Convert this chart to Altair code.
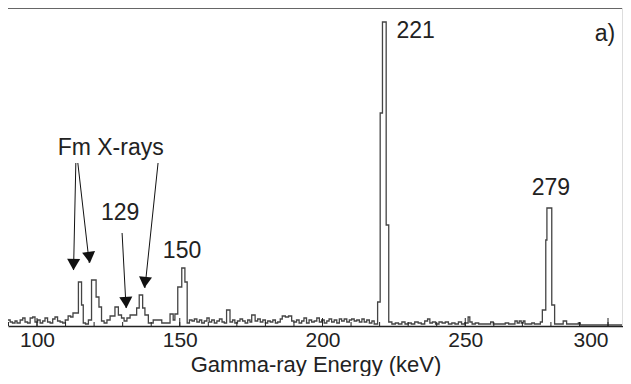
import altair as alt
import pandas as pd

# Step spectrum: left bin edge (keV) and counts (arbitrary units) until the next edge
edge_kev = [
    89.8, 90.6, 91.4, 92.3, 93.0, 94.1, 95.0, 95.8, 96.7, 97.6, 98.5, 99.3,
    100.2, 101.1, 102.0, 102.8, 103.7, 104.6, 105.5, 106.3, 107.2, 108.1, 109.0, 109.9,
    110.9, 111.8, 112.6, 114.5, 115.6, 116.2, 117.0, 118.0, 119.1, 120.7, 121.7, 122.6,
    123.5, 124.5, 125.6, 127.3, 128.5, 129.6, 130.5, 131.5, 132.6, 134.9, 135.8, 137.0,
    137.8, 139.0, 140.7, 143.7, 146.6, 147.7, 148.3, 149.3, 150.7, 151.8, 152.6,
    153.4, 154.3, 155.1, 156.0, 156.9, 157.7, 158.6, 159.5, 160.3, 161.2, 162.1, 163.0,
    163.9, 164.8, 165.6, 166.4, 167.6, 168.5, 169.3, 170.2, 171.1, 172.0, 172.9, 173.8,
    174.6, 175.2, 176.4, 177.3, 178.2, 179.1, 180.0, 180.8, 181.7, 182.6, 183.5, 184.3,
    185.2, 185.9, 187.0, 188.1, 189.2, 190.0, 190.9, 191.8, 192.7, 193.5, 194.4, 195.3,
    196.2, 197.1, 198.0, 198.9, 199.7, 200.6, 201.5, 202.3, 203.2, 204.1, 205.0, 205.9,
    206.7, 207.6, 208.5, 209.4, 210.2, 211.1, 212.0, 212.9, 213.8, 214.6, 215.5, 216.4,
    217.3, 218.1, 219.3, 220.2, 221.0, 222.3, 223.2, 224.3, 225.5, 226.6, 227.8, 228.9,
    230.0, 231.1, 232.3, 233.5, 234.6, 235.8, 236.8, 237.6, 238.5, 239.6, 240.8, 241.9,
    243.0, 244.1, 245.3, 246.4, 247.6, 248.7, 249.8, 251.0, 251.6, 252.4, 253.5, 254.7,
    256.0, 257.3, 258.9, 259.8, 261.0, 262.5, 264.0, 265.2, 266.5, 267.4, 268.2, 268.9,
    269.6, 270.3, 270.9, 272.0, 273.3, 274.2, 275.5, 276.3, 277.0, 278.2, 278.6, 280.3,
    281.3, 282.3, 283.5, 284.3, 285.5, 287.0, 289.6, 290.3, 292.0, 295.0, 298.0, 308.0,
]
counts = [
    6, 4, 3, 5, 3, 6, 8, 4, 3, 8, 9, 4,
    6, 3, 5, 8, 4, 3, 7, 9, 5, 4, 3, 6,
    10, 9, 13, 44, 21, 3, 2, 6, 46, 29, 19, 5,
    3, 6, 10, 19, 11, 8, 5, 8, 11, 18, 31, 18,
    11, 3, 6, 3, 12, 6, 12, 39, 58, 44, 3,
    6, 5, 7, 4, 6, 3, 5, 8, 4, 6, 3, 5,
    7, 4, 3, 16, 4, 6, 3, 5, 7, 5, 3, 6,
    4, 11, 5, 7, 4, 6, 3, 5, 4, 6, 3, 4,
    7, 10, 9, 10, 5, 4, 6, 3, 5, 8, 3, 6,
    4, 5, 8, 4, 6, 3, 5, 7, 4, 6, 3, 7,
    5, 7, 4, 6, 7, 5, 6, 4, 7, 4, 6, 3,
    5, 2, 24, 213, 304, 101, 4, 2, 3, 2, 4, 2,
    3, 2, 4, 3, 2, 5, 7, 3, 4, 2, 4, 3,
    4, 2, 3, 2, 4, 2, 3, 9, 4, 2, 3, 2,
    2, 2, 4, 2, 2, 2, 3, 2, 2, 5, 3, 5,
    3, 5, 2, 2, 3, 2, 2, 4, 16, 86, 118, 21,
    2, 2, 2, 5, 2, 2, 3, 1, 1, 1, 1, 1,
]

tick_minor = list(range(90, 301, 10))
tick_major = [100, 150, 200, 250, 300]

label_text = ["Fm X-rays", "129", "150", "221", "279", "a)"]
label_kev = [125.8, 129.1, 150.8, 232.6, 280.0, 298.9]
label_cnt = [178, 113, 75, 295, 138, 292]

arrow_from_kev = [113.6, 114.3, 142.4, 129.8]
arrow_from_cnt = [163, 163, 163, 93]
arrow_to_kev = [112.8, 118.3, 137.8, 131.2]
arrow_to_cnt = [56, 63, 38, 18]
arrow_angle = [1, 353, 6, 357]

W, H = 615, 318
BOTTOM = 50
FONT = "Liberation Sans"

spec = pd.DataFrame({"kev": edge_kev, "cnt": counts})
labels = pd.DataFrame({"kev": label_kev, "cnt": label_cnt, "text": label_text})
arrows = pd.DataFrame({"kev": arrow_from_kev, "cnt": arrow_from_cnt,
                       "kev2": arrow_to_kev, "cnt2": arrow_to_cnt, "ang": arrow_angle})
heads = pd.DataFrame({"kev": arrow_to_kev, "cnt": arrow_to_cnt, "ang": arrow_angle})
minor = pd.DataFrame({"kev": tick_minor})
major = pd.DataFrame({"kev": tick_major})

x_scale = alt.Scale(domain=[89.84, 305.25], nice=False, zero=False)
y_scale = alt.Scale(domain=[0, 318], nice=False, zero=False)
x_axis = alt.Axis(
    values=tick_major, title="Gamma-ray Energy (keV)", grid=False, tickSize=0,
    labelFont=FONT, labelFontSize=21, labelColor="#222",
    labelBaseline="alphabetic", labelPadding=20, labelFlush=20,
    titleFont=FONT, titleFontSize=22, titleFontWeight="normal", titleColor="#222",
    titleBaseline="alphabetic", titleY=45,
    domainColor="#222", domainWidth=1.5,
)

def X(field="kev"):
    return alt.X(f"{field}:Q", scale=x_scale, axis=x_axis)

def Y(field="cnt"):
    return alt.Y(f"{field}:Q", scale=y_scale, axis=None)

line = alt.Chart(spec).mark_line(
    interpolate="step-after", color="#444", strokeWidth=1.3, clip=True
).encode(x=X(), y=Y())

minor_ticks = alt.Chart(minor).mark_rule(color="#222", strokeWidth=1).encode(
    x=X(), y=alt.value(H), y2=alt.value(H - 4))
major_ticks = alt.Chart(major).mark_rule(color="#222", strokeWidth=1).encode(
    x=X(), y=alt.value(H), y2=alt.value(H - 8))

arrow_lines = alt.Chart(arrows).mark_rule(color="#111", strokeWidth=1).encode(
    x=X(), y=Y(), x2="kev2:Q", y2="cnt2:Q")
arrow_heads = alt.Chart(heads).mark_point(
    shape="triangle-down", filled=True, size=170, color="#111", opacity=1, yOffset=-5.5
).encode(x=X(), y=Y(), angle=alt.Angle("ang:Q", scale=None))

texts = alt.Chart(labels).mark_text(
    font=FONT, fontSize=23, color="#222", align="center", baseline="middle"
).encode(x=X(), y=Y(), text="text:N")

top_line = alt.Chart(major).mark_rule(color="#666", strokeWidth=2).encode(
    x=alt.value(0), x2=alt.value(W), y=alt.value(0))
right_line = alt.Chart(major).mark_rule(color="#ddd", strokeWidth=1).encode(
    x=alt.value(W - 0.5), y=alt.value(0), y2=alt.value(H))

chart = alt.layer(
    line, minor_ticks, major_ticks, arrow_lines, arrow_heads, texts, top_line, right_line
).properties(
    width=W, height=H, background="white",
    autosize=alt.AutoSizeParams(type="none"),
    padding={"left": 0, "top": 0, "right": 0, "bottom": BOTTOM},
).configure_view(stroke=None)

chart.save("out.html", embed_options={"renderer": "svg", "actions": False})
